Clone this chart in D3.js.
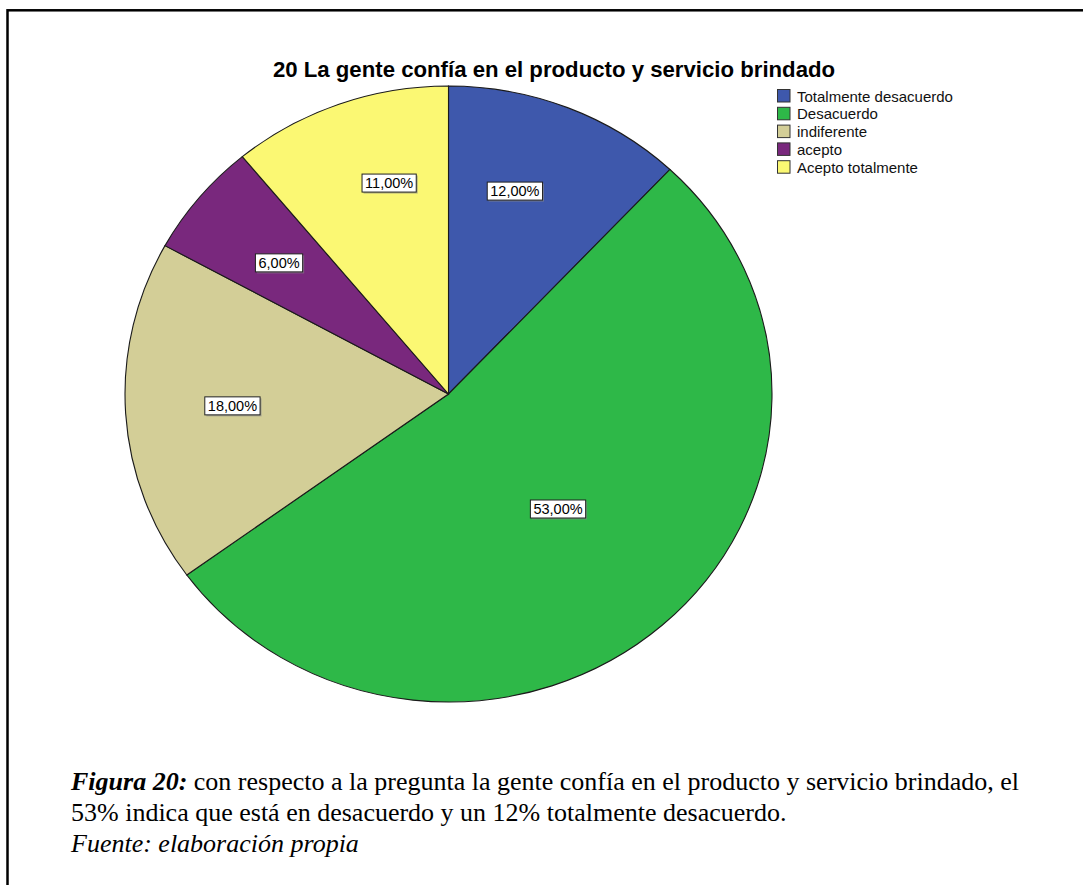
<!DOCTYPE html>
<html>
<head>
<meta charset="utf-8">
<script src="https://cdn.jsdelivr.net/npm/d3@7"></script>
<style>
  html, body { margin: 0; padding: 0; background: #fff; }
  svg { display: block; }
</style>
</head>
<body>
<svg id="chart" width="1083" height="885"></svg>
<script>
// Survey item 20: answer categories and their shares (%)
const categories = ["Totalmente desacuerdo", "Desacuerdo", "indiferente", "acepto", "Acepto totalmente"];
const percents = [12, 53, 18, 6, 11];
const colors = ["#3E58AC", "#2EB848", "#D3CE97", "#79287D", "#FBF873"];
const titleText = "20 La gente confía en el producto y servicio brindado";

// Label placement per slice: angle nudge (degrees) and radial fraction
const labelNudge = [-4.3, -0.8, 0.3, -0.5, 4.8];
const labelRadius = [0.69, 0.504, 0.669, 0.675, 0.709];

const svg = d3.select("#chart");

// Outer frame
svg.append("rect")
  .attr("x", 7.5).attr("y", 10.3)
  .attr("width", 1100).attr("height", 900)
  .attr("fill", "none").attr("stroke", "#000").attr("stroke-width", 2.5);

// Title
svg.append("text")
  .attr("x", 554).attr("y", 77)
  .attr("text-anchor", "middle")
  .attr("font-family", "Liberation Sans, Arial, sans-serif")
  .attr("font-weight", "bold")
  .attr("font-size", 22.2)
  .attr("fill", "#000")
  .text(titleText);

// Pie (drawn as a circle and squeezed vertically into an ellipse)
const cx = 448.5, cy = 394, rx = 323.5, ry = 308;
const pie = d3.pie().sort(null).value(d => d)(percents);
const arc = d3.arc().innerRadius(0).outerRadius(rx);

const pieG = svg.append("g")
  .attr("transform", `translate(${cx},${cy}) scale(1,${ry / rx})`);

pieG.selectAll("path")
  .data(pie)
  .join("path")
  .attr("d", arc)
  .attr("fill", (d, i) => colors[i])
  .attr("stroke", "#1a1a1a")
  .attr("stroke-width", 1.1)
  .attr("vector-effect", "non-scaling-stroke");

// Percentage labels
const fmt = v => d3.format(".2f")(v).replace(".", ",") + "%";
const labelG = svg.append("g");
pie.forEach((d, i) => {
  const a = (d.startAngle + d.endAngle) / 2 + labelNudge[i] * Math.PI / 180;
  const x = cx + rx * labelRadius[i] * Math.sin(a);
  const y = cy - ry * labelRadius[i] * Math.cos(a);
  const g = labelG.append("g").attr("transform", `translate(${x},${y})`);
  const t = g.append("text")
    .attr("text-anchor", "middle")
    .attr("dy", "0.36em")
    .attr("font-family", "Liberation Sans, Arial, sans-serif")
    .attr("font-size", 14.5)
    .attr("fill", "#000")
    .text(fmt(percents[i]));
  const bb = t.node().getBBox();
  const w = bb.width + 6, h = 18;
  g.insert("rect", "text")
    .attr("x", -w / 2 + 1.5).attr("y", -h / 2 + 1.5)
    .attr("width", w).attr("height", h)
    .attr("fill", "#8a8a8a").attr("opacity", 0.6);
  g.insert("rect", "text")
    .attr("x", -w / 2).attr("y", -h / 2)
    .attr("width", w).attr("height", h)
    .attr("fill", "#fff").attr("stroke", "#222").attr("stroke-width", 1);
});

// Legend
const legend = svg.append("g").attr("transform", "translate(777,89)");
const rowH = 17.8;
categories.forEach((c, i) => {
  const row = legend.append("g").attr("transform", `translate(0,${i * rowH})`);
  row.append("rect")
    .attr("x", 0.5).attr("y", 0.5).attr("width", 12.5).attr("height", 12.5)
    .attr("fill", colors[i]).attr("stroke", "#333").attr("stroke-width", 1);
  row.append("text")
    .attr("x", 20).attr("y", 12.5)
    .attr("font-family", "Liberation Sans, Arial, sans-serif")
    .attr("font-size", 15)
    .attr("fill", "#111")
    .text(c);
});

// Caption
const cap = svg.append("text")
  .attr("font-family", "Liberation Serif, Times New Roman, serif")
  .attr("font-size", 26)
  .attr("fill", "#000");
const l1 = cap.append("tspan").attr("x", 71).attr("y", 790);
l1.append("tspan").attr("font-weight", "bold").attr("font-style", "italic").text("Figura 20:");
l1.append("tspan").text(" con respecto a la pregunta la gente confía en el producto y servicio brindado, el");
cap.append("tspan").attr("x", 71).attr("y", 821)
  .text("53% indica que está en desacuerdo y un 12% totalmente desacuerdo.");
cap.append("tspan").attr("x", 71).attr("y", 852)
  .attr("font-style", "italic")
  .text("Fuente: elaboración propia");
</script>
</body>
</html>
